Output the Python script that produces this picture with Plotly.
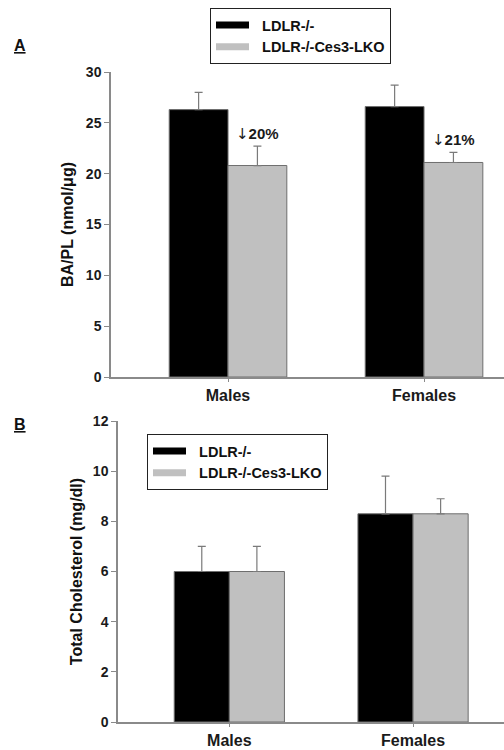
import plotly.graph_objects as go

categories = ["Males", "Females"]
series_names = ["LDLR-/-", "LDLR-/-Ces3-LKO"]

# Panel A: BA/PL (nmol/μg)
a_ldlr = [26.3, 26.6]
a_ldlr_err = [1.7, 2.1]
a_ces3 = [20.8, 21.1]
a_ces3_err = [1.9, 1.0]
a_change_labels = ["20%", "21%"]

# Panel B: Total cholesterol (mg/dl)
b_ldlr = [6.0, 8.3]
b_ldlr_err = [1.0, 1.5]
b_ces3 = [6.0, 8.3]
b_ces3_err = [1.0, 0.6]

W, H = 504, 750
FONT = "Liberation Sans, Arial, sans-serif"
fills = ["#000000", "#c0c0c0"]
AX = "#8a8a8a"

fig = go.Figure()

def add_bars(vals, errs, name, color, xa, ya, legend):
    fig.add_trace(go.Bar(
        x=categories, y=vals, name=name, xaxis=xa, yaxis=ya, legend=legend,
        showlegend=False,
        marker=dict(color=color, line=dict(color="#6e6e6e", width=1)),
        error_y=dict(type="data", array=errs, symmetric=False, arrayminus=[0]*len(errs),
                     color="#7a7a7a", thickness=1.2, width=4),
    ))
    # legend entry drawn as a wide swatch (no data points)
    fig.add_trace(go.Scatter(
        x=[None], y=[None], mode="lines", name="\u00a0\u00a0" + name, xaxis=xa, yaxis=ya,
        legend=legend, line=dict(color=color, width=7), hoverinfo="skip",
    ))

add_bars(a_ldlr, a_ldlr_err, series_names[0], fills[0], "x", "y", "legend")
add_bars(a_ces3, a_ces3_err, series_names[1], fills[1], "x", "y", "legend")
add_bars(b_ldlr, b_ldlr_err, series_names[0], fills[0], "x2", "y2", "legend2")
add_bars(b_ces3, b_ces3_err, series_names[1], fills[1], "x2", "y2", "legend2")

# percentage change annotations above the knockout bars (panel A)
for i, lab in enumerate(a_change_labels):
    fig.add_annotation(x=i + 0.15, y=a_ces3[i] + a_ces3_err[i], xref="x", yref="y",
                       text=f"<span style='font-family:DejaVu Sans'>↓</span><b>{lab}</b>",
                       showarrow=False, yanchor="bottom", yshift=1,
                       font=dict(family=FONT, size=15, color="#1a1a1a"))

# panel labels
fig.add_annotation(x=20 / W, y=1 - 45 / H, xref="paper", yref="paper", text="<b><u>A</u></b>",
                   showarrow=False, xanchor="center", yanchor="middle",
                   font=dict(family=FONT, size=16, color="#111"))
fig.add_annotation(x=20 / W, y=1 - 424 / H, xref="paper", yref="paper", text="<b><u>B</u></b>",
                   showarrow=False, xanchor="center", yanchor="middle",
                   font=dict(family=FONT, size=16, color="#111"))

tickfont = dict(family=FONT, size=14, color="#1a1a1a", weight="bold")
catfont = dict(family=FONT, size=16, color="#1a1a1a", weight="bold")
legfont = dict(family=FONT, size=14.5, color="#111", weight="bold")
titlefont = dict(family=FONT, size=16, color="#111", weight="bold")

common_x = dict(type="category", showline=True, linecolor=AX, linewidth=1.5, ticks="outside",
                ticklen=3, tickcolor=AX, tickfont=catfont, showgrid=False, zeroline=False,
                automargin=False)
common_y = dict(showline=True, linecolor=AX, linewidth=1.5, ticks="outside", ticklen=5,
                tickcolor=AX, tickfont=tickfont, showgrid=False, zeroline=False,
                automargin=False)

fig.update_layout(
    width=W, height=H,
    margin=dict(l=0, r=0, t=0, b=0),
    paper_bgcolor="white", plot_bgcolor="white",
    barmode="group", bargap=0.4, bargroupgap=0,
    font=dict(family=FONT, color="#111"),
    xaxis=dict(**common_x, domain=[111 / W, 1], range=[-0.597, 1.408], anchor="y"),
    yaxis=dict(**common_y, domain=[1 - 377 / H, 1 - 72 / H], range=[0, 30], dtick=5, anchor="x",
               title=dict(text="BA/PL (nmol/μg)", font=titlefont, standoff=8)),
    xaxis2=dict(**common_x, domain=[118 / W, 1], range=[-0.606, 1.495], anchor="y2"),
    yaxis2=dict(**common_y, domain=[1 - 722 / H, 1 - 421 / H], range=[0, 12], dtick=2, anchor="x2",
                title=dict(text="Total Cholesterol (mg/dl)", font=titlefont, standoff=6)),
    legend=dict(x=210 / W, y=1 - 8 / H, xanchor="left", yanchor="top", bordercolor="#222",
                borderwidth=1, bgcolor="white", font=legfont, traceorder="normal",
                itemwidth=33, tracegroupgap=0),
    legend2=dict(x=147 / W, y=1 - 434 / H, xanchor="left", yanchor="top", bordercolor="#222",
                 borderwidth=1, bgcolor="white", font=legfont, traceorder="normal",
                 itemwidth=33, tracegroupgap=0),
    showlegend=True,
)

fig.write_html("out.html", post_script="document.body.style.margin='0';")
